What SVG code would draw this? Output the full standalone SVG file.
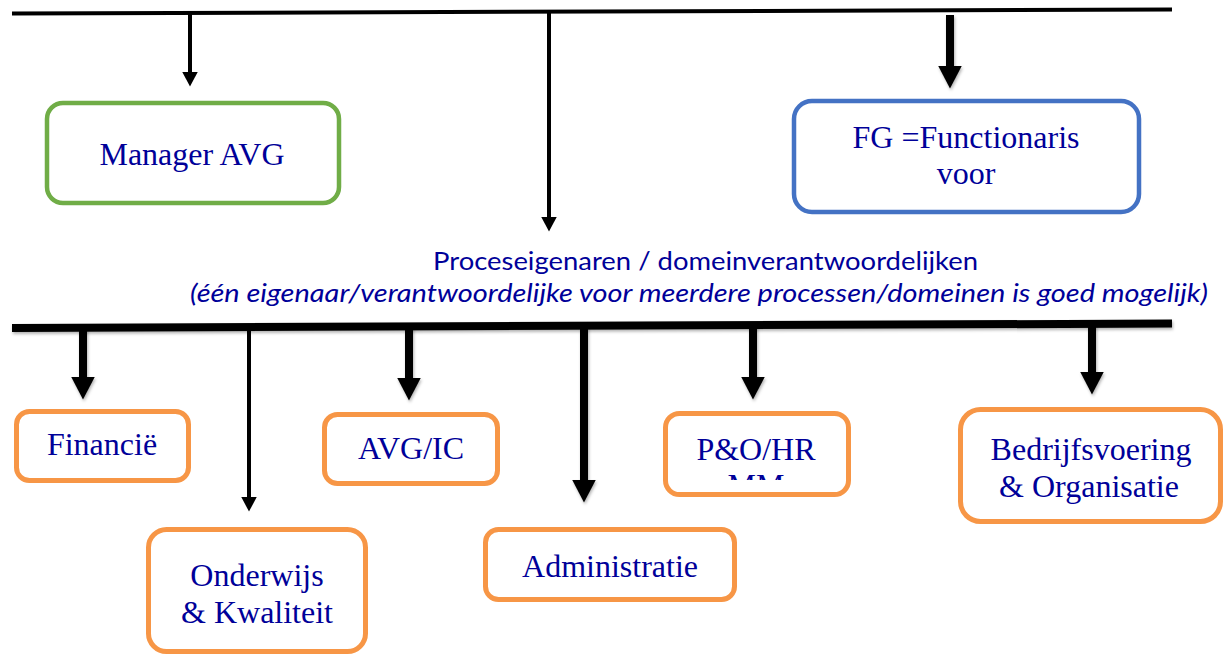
<svg xmlns="http://www.w3.org/2000/svg" width="1225" height="655" viewBox="0 0 1225 655">
<style>
.box{fill:#fff;stroke-width:4.5}
.green{stroke:#70AD47}
.blue{stroke:#4472C4}
.orange{stroke:#F79646;stroke-width:5}
.t{font-family:"Liberation Serif","Times New Roman",serif;font-size:32px;fill:#000099;text-anchor:middle}
.c{font-family:Lato,"Noto Sans",sans-serif;font-size:25px;fill:#000099}
.thin{stroke:#000;stroke-width:4;fill:none}
.thick{stroke:#000;stroke-width:8;fill:none}
</style>
<defs>
<marker id="hThin" markerUnits="userSpaceOnUse" viewBox="0 0 15 16" markerWidth="15" markerHeight="16" refX="0.5" refY="8" orient="auto">
<path d="M0,0 L15,8 L0,16 Z" fill="#000"/>
</marker>
<marker id="hThick" markerUnits="userSpaceOnUse" viewBox="0 0 23 24" markerWidth="23" markerHeight="24" refX="0.5" refY="12" orient="auto">
<path d="M0,0 L23,12 L0,24 Z" fill="#000"/>
</marker>
<filter id="sh" filterUnits="userSpaceOnUse" x="0" y="0" width="1225" height="655">
<feDropShadow dx="1" dy="2" stdDeviation="1.5" flood-color="#000" flood-opacity="0.3"/>
</filter>
<clipPath id="clipPO"><rect x="663" y="411" width="188" height="69"/></clipPath>
</defs>

<g id="connectors">
<line class="thin" x1="12" y1="13.5" x2="1172" y2="9.5"/>
<line class="thick" x1="12" y1="328" x2="1172" y2="323.5" filter="url(#sh)"/>
<line class="thin" x1="190" y1="13" x2="190" y2="72" marker-end="url(#hThin)"/>
<line class="thin" x1="549" y1="12" x2="549" y2="217" marker-end="url(#hThin)"/>
<line class="thick" x1="950" y1="15" x2="950" y2="66" marker-end="url(#hThick)" filter="url(#sh)"/>
<line class="thick" x1="83" y1="328" x2="83" y2="377" marker-end="url(#hThick)" filter="url(#sh)"/>
<line class="thin" x1="249" y1="328" x2="249" y2="497" marker-end="url(#hThin)"/>
<line class="thick" x1="409" y1="327" x2="409" y2="378" marker-end="url(#hThick)" filter="url(#sh)"/>
<line class="thick" x1="584" y1="327" x2="584" y2="480" marker-end="url(#hThick)" filter="url(#sh)"/>
<line class="thick" x1="753" y1="326" x2="753" y2="377" marker-end="url(#hThick)" filter="url(#sh)"/>
<line class="thick" x1="1092" y1="324" x2="1092" y2="372" marker-end="url(#hThick)" filter="url(#sh)"/>
</g>

<g id="manager-avg">
<rect class="box green" x="47" y="103" width="292" height="100" rx="16"/>
<text class="t" x="192" y="165">Manager AVG</text>
</g>

<g id="fg">
<rect class="box blue" x="794" y="101" width="345" height="111" rx="18"/>
<text class="t" x="966" y="148">FG =Functionaris</text>
<text class="t" x="966" y="184">voor</text>
</g>

<g id="proceseigenaren">
<text class="c" x="433" y="270" textLength="545" lengthAdjust="spacingAndGlyphs">Proceseigenaren / domeinverantwoordelijken</text>
<text class="c" x="190" y="302" font-style="italic" textLength="1018" lengthAdjust="spacingAndGlyphs">(één eigenaar/verantwoordelijke voor meerdere processen/domeinen is goed mogelijk)</text>
</g>

<g id="financie">
<rect class="box orange" x="16.5" y="411.5" width="172" height="69" rx="13"/>
<text class="t" x="102" y="455">Financië</text>
</g>

<g id="onderwijs">
<rect class="box orange" x="148.5" y="529.5" width="217" height="122" rx="18"/>
<text class="t" x="257" y="586">Onderwijs</text>
<text class="t" x="257" y="623">&amp; Kwaliteit</text>
</g>

<g id="avg-ic">
<rect class="box orange" x="324.5" y="414.5" width="173" height="69" rx="13"/>
<text class="t" x="411" y="459">AVG/IC</text>
</g>

<g id="administratie">
<rect class="box orange" x="485.5" y="529.5" width="249" height="70" rx="13"/>
<text class="t" x="610" y="577">Administratie</text>
</g>

<g id="po-hr">
<rect class="box orange" x="665.5" y="413.5" width="183" height="81" rx="14"/>
<text class="t" x="756" y="460">P&amp;O/HR</text>
<text class="t" x="756" y="496" clip-path="url(#clipPO)">MM</text>
</g>

<g id="bedrijfsvoering">
<rect class="box orange" x="960.5" y="409.5" width="260" height="112" rx="20"/>
<text class="t" x="1091" y="460">Bedrijfsvoering</text>
<text class="t" x="1089" y="497">&amp; Organisatie</text>
</g>
</svg>
